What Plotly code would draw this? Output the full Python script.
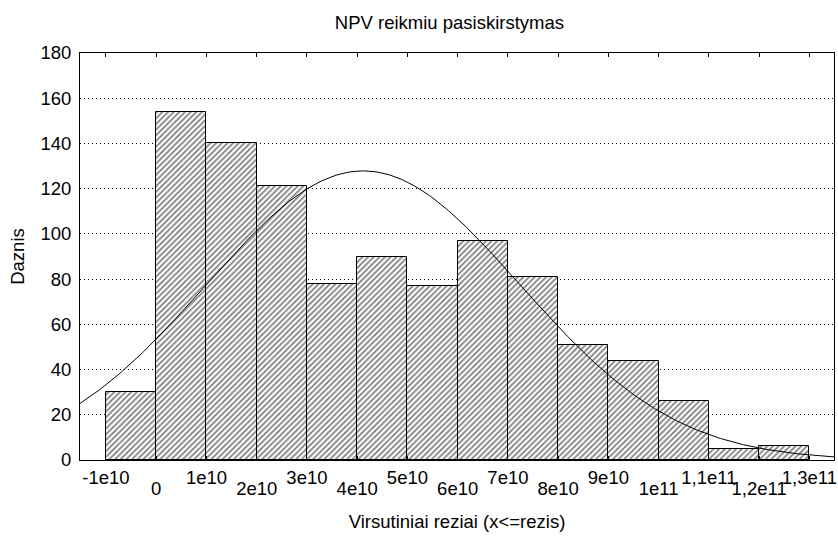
import numpy as np
import plotly.graph_objects as go

# Histogram data (upper bin limits, counts)
upper_limits = [0, 1e10, 2e10, 3e10, 4e10, 5e10, 6e10, 7e10, 8e10, 9e10, 1e11, 1.1e11, 1.2e11, 1.3e11]
counts = [30, 154, 140, 121, 78, 90, 77, 97, 81, 51, 44, 26, 5, 6]
bin_width = 1e10

# Tick labels
tick_values = [-1e10, 0, 1e10, 2e10, 3e10, 4e10, 5e10, 6e10, 7e10, 8e10, 9e10, 1e11, 1.1e11, 1.2e11, 1.3e11]
tick_labels = ["-1e10", "0", "1e10", "2e10", "3e10", "4e10", "5e10", "6e10", "7e10", "8e10",
               "9e10", "1e11", "1,1e11", "1,2e11", "1,3e11"]

# Fitted normal curve parameters
fit_mean = 4.12e10
fit_sd = 3.12e10
n_total = sum(counts)

x_range = [-1.517e10, 1.349e11]

centers = [u - bin_width / 2 for u in upper_limits]
xs = np.linspace(x_range[0], x_range[1], 400)
ys = n_total * bin_width / (fit_sd * np.sqrt(2 * np.pi)) * np.exp(-0.5 * ((xs - fit_mean) / fit_sd) ** 2)

FONT = "Liberation Sans, Arial, sans-serif"
FS = 18.5

fig = go.Figure()
fig.add_trace(go.Bar(
    x=centers, y=counts, width=[bin_width] * len(counts),
    marker=dict(color="white", line=dict(color="black", width=1),
                pattern=dict(shape="/", fgcolor="black", bgcolor="white", size=4, solidity=0.45)),
    showlegend=False, hoverinfo="x+y",
))
fig.add_trace(go.Scatter(x=xs, y=ys, mode="lines", line=dict(color="black", width=1),
                         showlegend=False, hoverinfo="skip"))
# invisible trace for second label row axis
fig.add_trace(go.Scatter(x=[x_range[0]], y=[0], xaxis="x2", mode="markers",
                         marker=dict(opacity=0), showlegend=False, hoverinfo="skip"))

row1 = [t if i % 2 == 0 else "" for i, t in enumerate(tick_labels)]
row2 = [t if i % 2 == 1 else "" for i, t in enumerate(tick_labels)]

fig.update_layout(
    width=838, height=538,
    margin=dict(l=80, r=4, t=53, b=78, autoexpand=False),
    paper_bgcolor="white", plot_bgcolor="white",
    font=dict(family=FONT, size=FS, color="black"),
    title=dict(text="NPV reikmiu pasiskirstymas", x=0.49, xref="paper", xanchor="center",
               y=0.958, yref="container", yanchor="middle", font=dict(size=FS)),
    bargap=0,
    xaxis=dict(range=x_range, tickvals=tick_values, ticktext=row1, ticks="inside", ticklen=4,
               tickcolor="black", showline=True, linecolor="black", linewidth=1, mirror="ticks",
               showgrid=False, zeroline=False, ticklabelstandoff=1, tickfont=dict(size=FS),
               automargin=False, ticklabeloverflow="allow",
               title=dict(text="Virsutiniai reziai (x<=rezis)", standoff=27, font=dict(size=FS))),
    xaxis2=dict(range=x_range, overlaying="x", anchor="y", side="bottom",
                tickvals=tick_values, ticktext=row2, ticks="", showline=False,
                automargin=False, ticklabeloverflow="allow",
                showgrid=False, zeroline=False, ticklabelstandoff=15, tickfont=dict(size=FS)),
    yaxis=dict(range=[0, 180], dtick=20, ticks="", showline=True, linecolor="black", linewidth=1,
               mirror=True, showgrid=True, gridcolor="black", griddash="1px,3px", gridwidth=1,
               zeroline=False, ticklabelstandoff=4, tickfont=dict(size=FS), automargin=False,
               title=dict(text="Daznis", standoff=10, font=dict(size=FS))),
)

fig.write_html("out.html")
